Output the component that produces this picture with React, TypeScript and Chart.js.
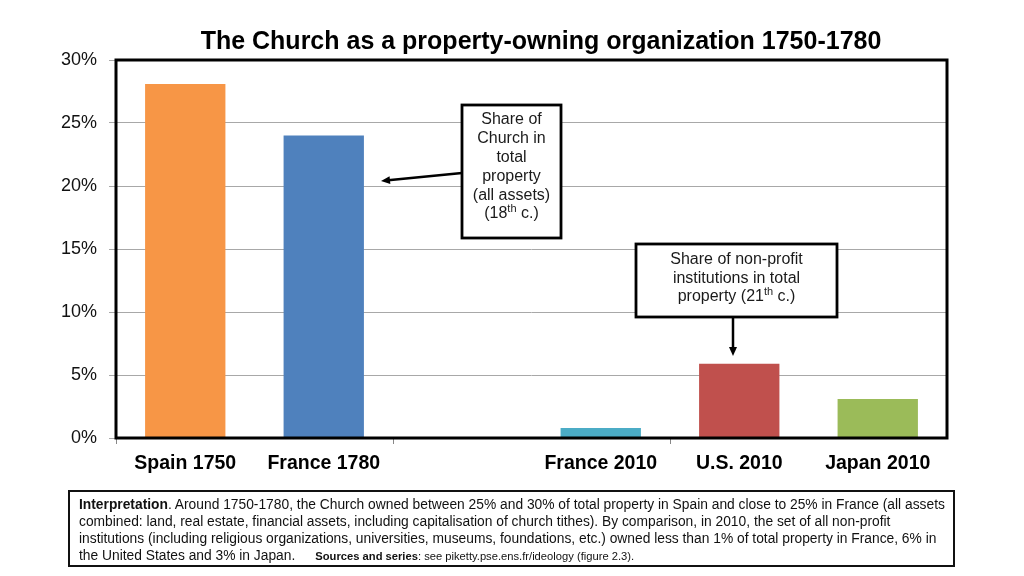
import React, { useEffect, useRef } from "react";
import { Chart, registerables } from "chart.js";

Chart.register(...registerables);

const titleText = "The Church as a property-owning organization 1750-1780";
const categories = ["Spain 1750", "France 1780", "", "France 2010", "U.S. 2010", "Japan 2010"];
const shares: (number | null)[] = [28.1, 24.0, null, 0.8, 5.9, 3.1];
const barColors = ["#F79646", "#4F81BD", "#4BACC6", "#4BACC6", "#C0504D", "#9BBB59"];
const yMin = 0;
const yMax = 30;
const yStep = 5;

type Seg = { t: string; sup?: boolean };
const churchNote: Seg[][] = [
  [{ t: "Share of" }],
  [{ t: "Church in" }],
  [{ t: "total" }],
  [{ t: "property" }],
  [{ t: "(all assets)" }],
  [{ t: "(18" }, { t: "th", sup: true }, { t: " c.)" }],
];
const nonProfitNote: Seg[][] = [
  [{ t: "Share of non-profit" }],
  [{ t: "institutions in total" }],
  [{ t: "property (21" }, { t: "th", sup: true }, { t: " c.)" }],
];

const SANS = '"Liberation Sans", Arial, sans-serif';
const NARROW = '"Liberation Sans Narrow", "Arial Narrow", "Liberation Sans", Arial, sans-serif';

function drawArrow(ctx: CanvasRenderingContext2D, x1: number, y1: number, x2: number, y2: number) {
  const ang = Math.atan2(y2 - y1, x2 - x1);
  const head = 9;
  const hw = 4;
  ctx.beginPath();
  ctx.moveTo(x1, y1);
  ctx.lineTo(x2 - Math.cos(ang) * head * 0.8, y2 - Math.sin(ang) * head * 0.8);
  ctx.lineWidth = 2.5;
  ctx.strokeStyle = "#000";
  ctx.stroke();
  ctx.beginPath();
  ctx.moveTo(x2, y2);
  ctx.lineTo(x2 - Math.cos(ang) * head - Math.sin(ang) * hw, y2 - Math.sin(ang) * head + Math.cos(ang) * hw);
  ctx.lineTo(x2 - Math.cos(ang) * head + Math.sin(ang) * hw, y2 - Math.sin(ang) * head - Math.cos(ang) * hw);
  ctx.closePath();
  ctx.fillStyle = "#000";
  ctx.fill();
}

function drawNote(
  ctx: CanvasRenderingContext2D,
  x: number,
  y: number,
  w: number,
  h: number,
  lines: Seg[][],
  firstY: number,
  lh: number
) {
  ctx.fillStyle = "#fff";
  ctx.fillRect(x, y, w, h);
  ctx.lineWidth = 2.8;
  ctx.strokeStyle = "#000";
  ctx.strokeRect(x, y, w, h);
  const cx = x + w / 2;
  ctx.fillStyle = "#1a1a1a";
  ctx.textBaseline = "middle";
  ctx.textAlign = "left";
  lines.forEach((segs, i) => {
    const ly = firstY + i * lh;
    let total = 0;
    segs.forEach((s) => {
      ctx.font = s.sup ? `11px ${SANS}` : `16px ${SANS}`;
      total += ctx.measureText(s.t).width;
    });
    let px = cx - total / 2;
    segs.forEach((s) => {
      ctx.font = s.sup ? `11px ${SANS}` : `16px ${SANS}`;
      ctx.fillText(s.t, px, s.sup ? ly - 5 : ly);
      px += ctx.measureText(s.t).width;
    });
  });
}

const decorPlugin = {
  id: "decor",
  afterDraw(chart: any) {
    const ctx: CanvasRenderingContext2D = chart.ctx;
    const { left, top, right, bottom } = chart.chartArea;
    ctx.save();
    ctx.strokeStyle = "#000";
    ctx.lineWidth = 3;
    ctx.strokeRect(left, top, right - left, bottom - top);

    ctx.fillStyle = "#000";
    ctx.font = `bold 25px ${SANS}`;
    ctx.textAlign = "center";
    ctx.textBaseline = "middle";
    ctx.fillText(titleText, 541, 42);

    drawNote(ctx, 462, 105, 99, 133, churchNote, 120, 18.8);
    drawArrow(ctx, 462, 173, 381, 181);
    drawNote(ctx, 636, 244, 201, 73, nonProfitNote, 260, 18.5);
    drawArrow(ctx, 733, 317, 733, 356);
    ctx.restore();
  },
};

export default function App() {
  const ref = useRef<HTMLCanvasElement | null>(null);
  useEffect(() => {
    if (!ref.current) return;
    const chart = new Chart(ref.current, {
      type: "bar",
      data: {
        labels: categories,
        datasets: [
          {
            data: shares,
            backgroundColor: barColors,
            borderWidth: 0,
            barPercentage: 0.58,
            categoryPercentage: 1,
          },
        ],
      },
      options: {
        responsive: false,
        animation: false,
        layout: { padding: { top: 60, right: 77, bottom: 0, left: 0 } },
        plugins: {
          legend: { display: false },
          title: { display: false },
          tooltip: { enabled: false },
        },
        scales: {
          x: {
            afterFit: (s: any) => {
              s.height = 138;
            },
            grid: {
              drawOnChartArea: false,
              tickLength: 6,
              color: (c: any) => (c.index % 2 === 0 ? "#888" : "rgba(0,0,0,0)"),
            },
            border: { display: false },
            ticks: {
              color: "#000",
              font: { family: SANS, size: 19.5, weight: "bold" },
              padding: 8,
              maxRotation: 0,
              autoSkip: false,
            },
          },
          y: {
            min: yMin,
            max: yMax,
            afterFit: (s: any) => {
              s.width = 116;
            },
            grid: { color: "#a8a8a8", lineWidth: 1, tickLength: 7 },
            border: { display: false },
            ticks: {
              stepSize: yStep,
              color: "#111",
              font: { family: SANS, size: 18 },
              padding: 12,
              callback: (v: any) => `${v}%`,
            },
          },
        },
      },
      plugins: [decorPlugin],
    });
    return () => chart.destroy();
  }, []);

  return (
    <div style={{ position: "absolute", left: 0, top: 0, width: 1024, height: 576, background: "#fff" }}>
      <canvas ref={ref} width={1024} height={576} style={{ position: "absolute", left: 0, top: 0 }} />
      <div
        style={{
          position: "absolute",
          left: 68,
          top: 490,
          width: 887,
          height: 77,
          boxSizing: "border-box",
          border: "2px solid #111",
          padding: "4px 0 0 9px",
          fontFamily: NARROW,
          fontSize: 13.8,
          lineHeight: "17px",
          color: "#111",
          whiteSpace: "nowrap",
        }}
      >
        <div>
          <b>Interpretation</b>. Around 1750-1780, the Church owned between 25% and 30% of total property in Spain and close to 25% in France (all assets
        </div>
        <div>
          combined: land, real estate, financial assets, including capitalisation of church tithes). By comparison, in 2010, the set of all non-profit
        </div>
        <div>
          institutions (including religious organizations, universities, museums, foundations, etc.) owned less than 1% of total property in France, 6% in
        </div>
        <div>
          the United States and 3% in Japan.
          <span style={{ display: "inline-block", width: 20 }} />
          <span style={{ fontSize: 11.2 }}>
            <b>Sources and series</b>: see piketty.pse.ens.fr/ideology (figure 2.3).
          </span>
        </div>
      </div>
    </div>
  );
}
